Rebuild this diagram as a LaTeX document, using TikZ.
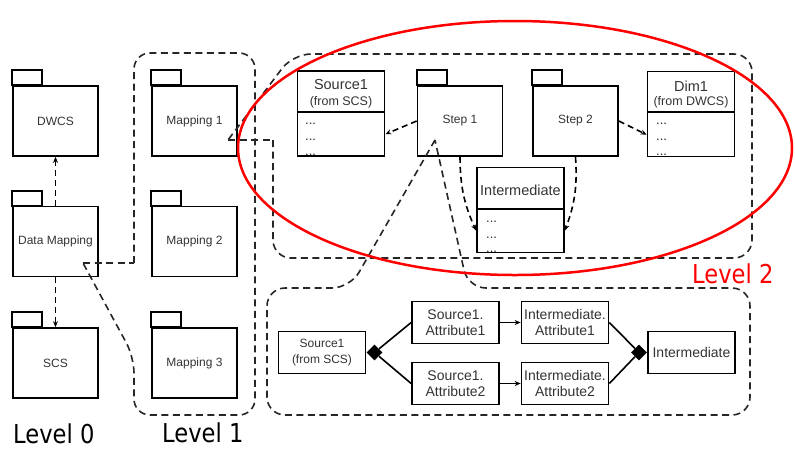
\documentclass[tikz,border=0pt]{standalone}
\usepackage{fontspec}
\setmainfont{Liberation Sans}
\newfontfamily\lvlfont{DejaVu Sans}
\usetikzlibrary{positioning,shapes.geometric,arrows.meta}

\begin{document}
\begin{tikzpicture}[x=1pt, y=-1pt]
        \tikzstyle{pkg} = [draw, line width=1.7pt, minimum width=85pt, minimum height=70pt, inner sep=0pt, text=black!80, font=\fontsize{12}{14}\selectfont]
        \tikzstyle{tab} = [draw, line width=1.7pt]
        \tikzstyle{cls} = [draw, line width=1.7pt, minimum width=87pt, minimum height=85pt, inner sep=0pt]
        \tikzstyle{ttl} = [inner sep=0pt, text=black!80, font=\fontsize{14.5}{16}\selectfont]
        \tikzstyle{sub} = [inner sep=0pt, text=black!80, font=\fontsize{12.5}{14}\selectfont]
        \tikzstyle{dots} = [inner sep=0pt, anchor=base west, text=black!85, font=\fontsize{13}{14}\selectfont]
        \tikzstyle{attr} = [draw, line width=1.7pt, minimum width=87pt, minimum height=42pt, inner sep=0pt, align=center, text=black!80, font=\fontsize{14}{16.5}\selectfont]
        \tikzstyle{dmd} = [diamond, fill=black, minimum width=16pt, minimum height=16pt, inner sep=0pt]
        \tikzstyle{dep} = [line width=1.6pt, dash pattern=on 6pt off 4pt, -{Stealth[length=6pt, width=5pt]}]
        \tikzstyle{callout} = [line width=1.6pt, dash pattern=on 7pt off 4.5pt, black!85]
        \tikzstyle{lvl} = [inner sep=0pt, anchor=base west, xscale=0.87, font=\lvlfont\fontsize{26}{28}\selectfont]

        \useasboundingbox (0,0) rectangle (795,451);

        \node[pkg] (dwcs) at (55.5,121) {DWCS};
        \node[pkg] (dm) at (55.5,241.5) {Data Mapping};
        \node[pkg] (scs) at (55.5,363) {SCS};
        \node[pkg] (map1) at (194.5,121) {Mapping 1};
        \node[pkg] (map2) at (194.5,241.5) {Mapping 2};
        \node[pkg] (map3) at (194.5,363) {Mapping 3};
        \node[pkg] (step1) at (460,121) {Step 1};
        \node[pkg] (step2) at (575.5,121) {Step 2};

        \draw[tab] (dwcs.north west) rectangle ++(30,-15);
        \draw[tab] (dm.north west) rectangle ++(30,-15);
        \draw[tab] (scs.north west) rectangle ++(30,-15);
        \draw[tab] (map1.north west) rectangle ++(30,-15);
        \draw[tab] (map2.north west) rectangle ++(30,-15);
        \draw[tab] (map3.north west) rectangle ++(30,-15);
        \draw[tab] (step1.north west) rectangle ++(30,-15);
        \draw[tab] (step2.north west) rectangle ++(30,-15);

        \node[cls] (src2) at (341,113.5) {};
        \draw[tab] (src2.north west) ++(0,42) -- ++(87,0);
        \node[ttl] (src2t) at (341,85) {Source1};
        \node[sub] (src2s) at (341,102) {(from SCS)};
        \node[dots] (src2a) at (305,124) {...};
        \node[dots] (src2b) at (305,140) {...};
        \node[dots] (src2c) at (305,155) {...};

        \node[cls] (dim1) at (691,114) {};
        \draw[tab] (dim1.north west) ++(0,41) -- ++(87,0);
        \node[ttl] (dim1t) at (691,86) {Dim1};
        \node[sub] (dim1s) at (691,102) {(from DWCS)};
        \node[dots] (dim1a) at (656,124) {...};
        \node[dots] (dim1b) at (656,140) {...};
        \node[dots] (dim1c) at (656,155) {...};

        \node[cls] (int2) at (520.5,210) {};
        \draw[tab] (int2.north west) ++(0,42.5) -- ++(87,0);
        \node[ttl] (int2t) at (520.5,190) {Intermediate};
        \node[dots] (int2a) at (486,222) {...};
        \node[dots] (int2b) at (486,238) {...};
        \node[dots] (int2c) at (486,252) {...};

        \node[attr, font=\fontsize{12}{16}\selectfont] (src3) at (322,352.5) {Source1\\(from SCS)};
        \node[attr] (sa1) at (455.5,322.5) {Source1.\\Attribute1};
        \node[attr] (sa2) at (455.5,383.5) {Source1.\\Attribute2};
        \node[attr] (ia1) at (565,322.5) {Intermediate.\\Attribute1};
        \node[attr] (ia2) at (565,383.5) {Intermediate.\\Attribute2};
        \node[attr] (int3) at (691.5,352.5) {Intermediate};
        \node[dmd, right=0pt of src3] (dmd1) {};
        \node[dmd, left=0pt of int3] (dmd2) {};

        \draw[line width=1.6pt] (dmd1) -- (sa1.west);
        \draw[line width=1.6pt] (dmd1) -- (sa2.west);
        \draw[line width=1.6pt, -{Stealth[length=6pt, width=5pt]}] (sa1) -- (ia1);
        \draw[line width=1.6pt, -{Stealth[length=6pt, width=5pt]}] (sa2) -- (ia2);
        \draw[line width=1.6pt] (ia1.east) -- (dmd2);
        \draw[line width=1.6pt] (ia2.east) -- (dmd2);

        \draw[dep] (dm) -- (dwcs);
        \draw[dep] (dm) -- (scs);
        \draw[dep] (step1.west) -- (src2.-25);
        \draw[dep] (step2.east) -- (dim1.205);
        \draw[dep] (step1.south) to[bend right=12] (int2.205);
        \draw[dep] (step2.south) to[bend left=12] (int2.-25);

        \coordinate (dmtip) at (83,263);
        \coordinate (m1tip) at (228,140);
        \coordinate (s1tip) at (435,140);
        \draw[callout] (dmtip) -- (134,263);
        \draw[callout, rounded corners=16pt] (134,263) -- (134,53) -- (255,53) -- (255,415) -- (134,415) -- (134,357) -- (dmtip);
        \draw[callout] (m1tip) -- (273,140);
        \draw[callout, rounded corners=18pt] (273,140) -- (273,258) -- (752,258) -- (752,54) -- (293,54) -- (m1tip);
        \draw[callout, rounded corners=18pt] (s1tip) -- (350,288) -- (267,288) -- (267,415) -- (750,415) -- (750,288) -- (468,288) -- (s1tip);

        \draw[red, line width=2.5pt] (515,148) ellipse [x radius=277pt, y radius=127pt];

        \node[lvl] (lvl0) at (13,443) {Level 0};
        \node[lvl] (lvl1) at (162,442) {Level 1};
        \node[lvl, text=red] (lvl2) at (692,283) {Level 2};

    \end{tikzpicture}
\end{document}
